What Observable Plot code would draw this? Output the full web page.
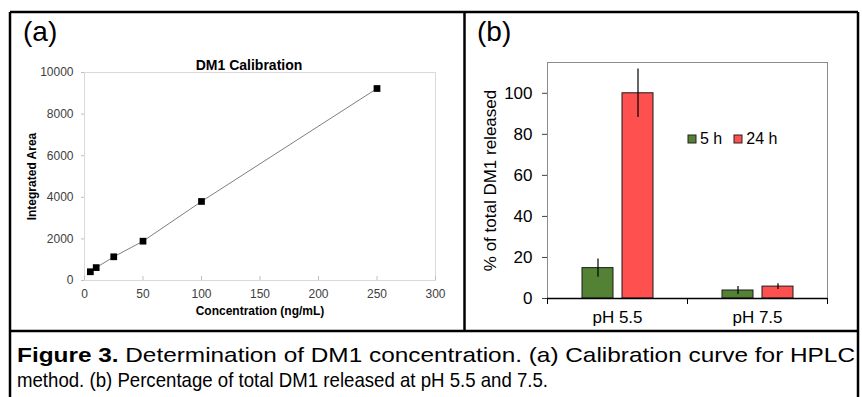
<!DOCTYPE html>
<html><head><meta charset="utf-8">
<script src="https://cdn.jsdelivr.net/npm/d3@7"></script>
<script src="https://cdn.jsdelivr.net/npm/@observablehq/plot@0.6"></script>
<style>
body{margin:0;background:#fff;}
#wrap{position:relative;width:862px;height:397px;overflow:hidden;background:#fff;font-family:Arial,"Liberation Sans",sans-serif;}
#wrap > .abs{position:absolute;}
#plotA g[aria-label="x-axis label"] text, #plotA g[aria-label="y-axis label"] text{font-weight:bold;fill:#000;}
.lg-swatches{font-size:16px !important;font-family:Arial,"Liberation Sans",sans-serif !important;color:#000;min-height:0 !important;margin:0 !important;}
.lg-swatch{margin-right:12px !important;}
.lg-swatch > svg{margin-right:4px !important;}
.lg-swatch rect{stroke:#222;stroke-width:1px;}
</style></head><body><div id="wrap"></div>
<script>
// ---- Panel (a): calibration data
const concentrations = [5, 10, 25, 50, 100, 250];
const areas = [420, 620, 1140, 1890, 3800, 9230];
const xTicksA = [0, 50, 100, 150, 200, 250, 300];
const yTicksA = [0, 2000, 4000, 6000, 8000, 10000];
// ---- Panel (b): release data
const phLabels = ["pH 5.5", "pH 7.5"];
const seriesNames = ["5 h", "24 h"];
const release5h = [14.8, 3.9];
const release24h = [100, 5.8];
const err5h = [4.4, 2.0];
const err24h = [11.8, 1.4];
const yTicksB = [0, 20, 40, 60, 80, 100];
const seriesColors = ["#548235", "#FF5050"];

const wrap = document.getElementById("wrap");
const FONT = "Arial, 'Liberation Sans', sans-serif";

const calib = concentrations.map((c, i) => ({c, a: areas[i]}));
const plotA = Plot.plot({
  width: 464, height: 330,
  marginLeft: 84, marginRight: 29, marginTop: 72, marginBottom: 50,
  style: {fontFamily: FONT, fontSize: "12px", color: "#404040", background: "transparent"},
  x: {domain: [0, 300]},
  y: {domain: [0, 10000]},
  marks: [
    Plot.frame({stroke: "#d9d9d9"}),
    Plot.tickX(xTicksA, {x: d => d, insetTop: 204, stroke: "#bfbfbf"}),
    Plot.axisX({ticks: xTicksA, tickFormat: d3.format("d"), tickSize: 0, tickPadding: 9, fontSize: 12,
      label: "Concentration (ng/mL)", labelAnchor: "center", labelArrow: "none", labelOffset: 34}),
    Plot.axisY({ticks: yTicksA, tickFormat: d3.format("d"), tickSize: 3, tickPadding: 8, stroke: "#bfbfbf", fontSize: 12,
      label: "Integrated Area", labelAnchor: "center", labelArrow: "none", labelOffset: 57}),
    Plot.line(calib, {x: "c", y: "a", stroke: "#7f7f7f", strokeWidth: 1}),
    Plot.dot(calib, {x: "c", y: "a", symbol: "square", r: 3.8, fill: "#000", stroke: "none"}),
    Plot.text(["DM1 Calibration"], {frameAnchor: "top", dx: -11, dy: -12, fontSize: 14, fontWeight: "bold", fill: "#000"})
  ]
});
plotA.id = "plotA";
plotA.classList.add("abs");
plotA.style.left = "0px"; plotA.style.top = "0px";
wrap.appendChild(plotA);

const releaseRows = phLabels.flatMap((ph, i) => [
  {ph, time: seriesNames[0], v: release5h[i], e: err5h[i]},
  {ph, time: seriesNames[1], v: release24h[i], e: err24h[i]}
]);
const plotB = Plot.plot({
  width: 398, height: 330,
  marginLeft: 83, marginRight: 35, marginTop: 62, marginBottom: 32,
  style: {fontFamily: FONT, fontSize: "17px", color: "#000", background: "transparent"},
  fx: {domain: phLabels, padding: 0},
  x: {domain: seriesNames, paddingInner: 0.225, paddingOuter: 0.8625, axis: null},
  y: {domain: [0, 115]},
  color: {domain: seriesNames, range: seriesColors},
  marks: [
    Plot.frame({facet: "super", stroke: "#8c8c8c"}),
    Plot.barY(releaseRows, {fx: "ph", x: "time", y: "v", fill: "time", stroke: "#1a1a1a", strokeWidth: 1}),
    Plot.ruleX(releaseRows, {fx: "ph", x: "time", y1: d => d.v - d.e, y2: d => d.v + d.e, stroke: "#000", strokeWidth: 1.2}),
    Plot.ruleY([0], {stroke: "#000", strokeWidth: 1.5}),
    Plot.frame({anchor: "left", insetTop: 236, insetBottom: -5, stroke: "#000"}),
    Plot.frame({anchor: "right", insetTop: 236, insetBottom: -5, stroke: "#000"}),
    Plot.axisY({ticks: yTicksB, tickSize: 5, tickPadding: 10, stroke: "#404040", fontSize: 17,
      label: "% of total DM1 released", labelAnchor: "center", labelArrow: "none", labelOffset: 64}),
    Plot.axisFx({anchor: "bottom", tickSize: 0, tickPadding: 12, fontSize: 17, label: null})
  ]
});
plotB.classList.add("abs");
plotB.style.left = "464px"; plotB.style.top = "0px";
wrap.appendChild(plotB);

const legend = Plot.legend({
  color: {domain: seriesNames, range: seriesColors},
  legend: "swatches", swatchSize: 8, className: "lg"
});
legend.classList.add("abs");
legend.style.left = "688px"; legend.style.top = "130px";
wrap.appendChild(legend);

// ---- Figure frame, panel letters and caption
const NS = "http://www.w3.org/2000/svg";
const ov = document.createElementNS(NS, "svg");
ov.setAttribute("width", 862); ov.setAttribute("height", 397);
ov.setAttribute("class", "abs");
ov.style.left = "0px"; ov.style.top = "0px"; ov.style.pointerEvents = "none";
ov.innerHTML = `
  <g stroke="#000" stroke-width="2.5" fill="none">
    <line x1="10" y1="12" x2="858" y2="12"/>
    <line x1="10" y1="12" x2="10" y2="400"/>
    <line x1="858" y1="12" x2="858" y2="400"/>
    <line x1="464.5" y1="12" x2="464.5" y2="331"/>
    <line x1="10" y1="331" x2="858" y2="331"/>
  </g>
  <g font-family="Arial, 'Liberation Sans', sans-serif" fill="#000">
    <text x="23" y="41" font-size="28">(a)</text>
    <text x="477" y="41" font-size="28">(b)</text>
    <text x="17" y="362" font-size="21" textLength="838" lengthAdjust="spacingAndGlyphs"><tspan font-weight="bold">Figure 3.</tspan> Determination of DM1 concentration. (a) Calibration curve for HPLC</text>
    <text x="17" y="387" font-size="21" textLength="531" lengthAdjust="spacingAndGlyphs">method. (b) Percentage of total DM1 released at pH 5.5 and 7.5.</text>
  </g>`;
wrap.appendChild(ov);
</script>
</body></html>
